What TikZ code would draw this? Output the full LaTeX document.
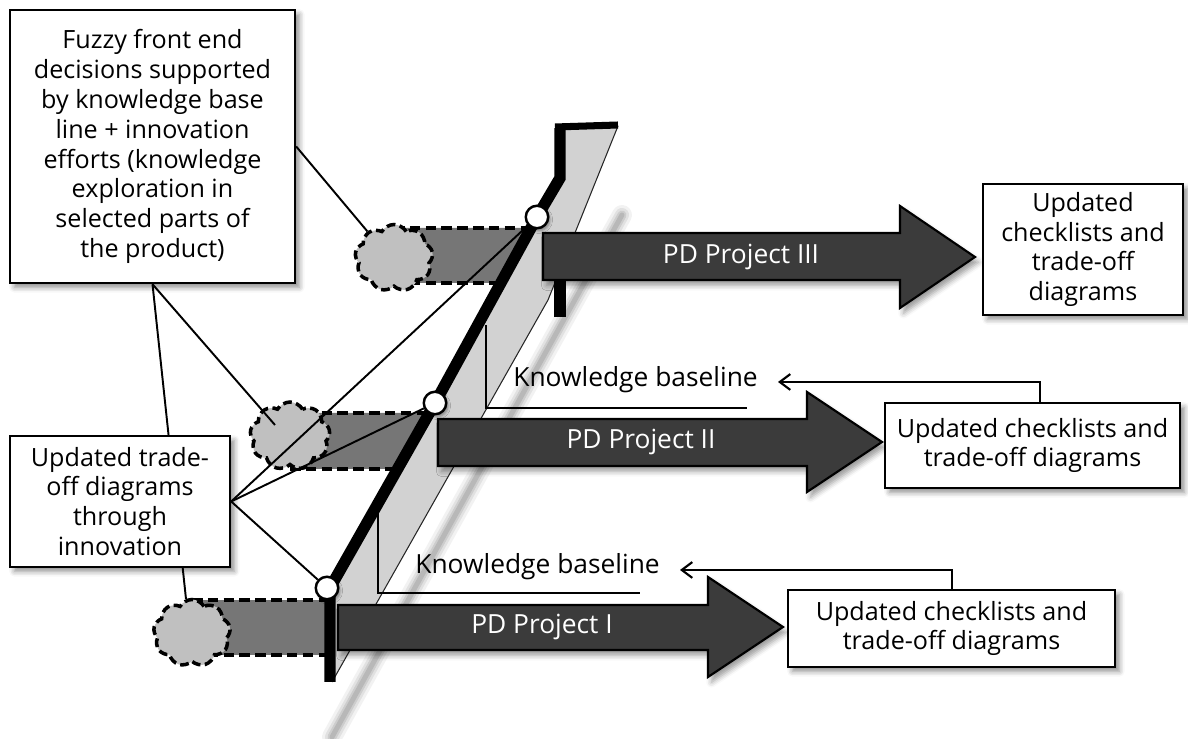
\documentclass[tikz,border=0pt]{standalone}
\usepackage{fontspec}
\setmainfont{Open Sans}
\usetikzlibrary{shapes.symbols,shadows.blur,arrows.meta,calc}
\definecolor{sheet}{HTML}{D2D2D2}
\definecolor{tube}{HTML}{767676}
\definecolor{cloudgray}{HTML}{C0C0C0}
\definecolor{arrowfill}{HTML}{3B3B3B}
\begin{document}
\begin{tikzpicture}[x=0.02cm,y=-0.02cm,
  txt/.style={font=\fontsize{14.3}{17}\selectfont, align=center},
  softshadow/.style={blur shadow={shadow xshift=2.5pt, shadow yshift=-2.5pt,
      shadow blur radius=3pt, shadow opacity=45}},
  infobox/.style={draw, line width=1.4pt, fill=white, inner sep=0pt, txt, softshadow},
  fuzzy/.style={cloud, cloud puffs=9, cloud puff arc=120, draw, fill=cloudgray,
      line width=2pt, dash pattern=on 5pt off 2.5pt, inner sep=0pt, aspect=1.15},
  dashedge/.style={line width=2pt, dash pattern=on 6pt off 3pt},
  tubefill/.style={fill=tube},
  projarrow/.style={draw, line width=1.2pt, fill=arrowfill, line join=miter,
      blur shadow={shadow xshift=2pt, shadow yshift=-3pt, shadow blur radius=3pt, shadow opacity=40}},
  projtext/.style={text=white, font=\fontsize{15}{18}\selectfont},
  kbtext/.style={font=\fontsize{15}{18}\selectfont, inner sep=0pt},
  baseline line/.style={line width=1.2pt},
  link/.style={line width=1.1pt},
  fb/.style={line width=1.2pt, -{Straight Barb[length=6pt,width=9pt,line width=1.2pt]}},
  gate/.style={circle, draw, line width=1.4pt, fill=white, minimum size=0.45cm, inner sep=0pt,
      blur shadow={shadow xshift=1pt, shadow yshift=-1.5pt, shadow blur radius=1.5pt, shadow opacity=40}}
]
\useasboundingbox (0,0) rectangle (1188,739);

% soft cast shadow of the sheet edge
\foreach \w/\o in {20/0.05,14/0.07,9/0.09,5/0.10}
  \draw[line width=\w*0.02cm, black, opacity=\o, line cap=round] (332,737) -- (622,215);

% the sheet carrying the knowledge baseline
\path[fill=sheet] (330,682) -- (330,588) -- (435,403) -- (537,217) -- (560,178)
  -- (560,128) -- (618,126) -- (548,300) -- (332,682) -- cycle;
\draw[line width=0.6pt, black!85] (618,126) -- (548,300) -- (332,682);

% rear edge below the third project
\draw[line width=7pt] (560,255) -- (560,317);

% tubes from the fuzzy front ends to the gates
\path[tubefill] (394,228) -- (531,228) -- (501,283) -- (394,283) -- cycle;
\path[tubefill] (290,413) -- (429,413) -- (396,469) -- (290,469) -- cycle;
\path[tubefill] (192,600) -- (327,600) -- (327,655) -- (192,655) -- cycle;
\draw[dashedge] (394,228) -- (531,228) (394,283) -- (501,283);
\draw[dashedge] (290,413) -- (429,413) (290,469) -- (396,469);
\draw[dashedge] (192,600) -- (327,600) (192,655) -- (327,655);

% fuzzy front ends
\node[fuzzy, minimum width=1.56cm, minimum height=1.34cm] (c3) at (394,258) {};
\node[fuzzy, minimum width=1.60cm, minimum height=1.36cm] (c2) at (290,436) {};
\node[fuzzy, minimum width=1.54cm, minimum height=1.34cm] (c1) at (192,633) {};

% knowledge baseline stem
\draw[line width=6.5pt, line join=miter] (330,682) -- (330,588) -- (435,403) -- (537,217)
  -- (560,178) -- (560,128);
\draw[line width=4pt] (555,127) -- (618,125);

% knowledge baselines
\draw[baseline line] (486,325) |- (747,408);
\node[kbtext, anchor=west] (kb2) at (513,380) {Knowledge baseline};
\draw[baseline line] (378,510) |- (640,593);
\node[kbtext, anchor=west] (kb1) at (415,567) {Knowledge baseline};

% project arrows
\path[projarrow] (543,233) -- (900,233) -- (900,206) -- (975,257) -- (900,308) -- (900,280) -- (543,280) -- cycle;
\node[projtext] (p3) at (741,257) {PD Project III};
\path[projarrow] (438,419) -- (807,419) -- (807,392) -- (882,442) -- (807,492) -- (807,466) -- (438,466) -- cycle;
\node[projtext] (p2) at (641,442) {PD Project II};
\path[projarrow] (338,605) -- (708,605) -- (708,577) -- (783,627) -- (708,677) -- (708,650) -- (338,650) -- cycle;
\node[projtext] (p1) at (542,627) {PD Project I};

% gates on the stem
\node[gate] (k3) at (537,217) {};
\node[gate] (k2) at (435,403) {};
\node[gate] (k1) at (327,588) {};

% explanation boxes on the left
\node[infobox, minimum width=5.7cm, minimum height=5.46cm] (ffe) at (152.5,146.5)
  {Fuzzy front end\\decisions supported\\by knowledge base\\line + innovation\\efforts (knowledge\\exploration in\\selected parts of\\the product)};
\draw[link] (ffe.south) -- (c1.100);
\draw[link] (ffe.south) -- ($(c2.center)+(-15,-11)$);
\draw[link] (ffe.east) -- (c3.135);

\node[infobox, minimum width=4.4cm, minimum height=2.62cm] (upd) at (120,501.5)
  {Updated trade-\\off diagrams\\through\\innovation};
\draw[link] (upd.east) -- (k3);
\draw[link] (upd.east) -- (k2);
\draw[link] (upd.east) -- (k1);

% result boxes on the right
\node[infobox, minimum width=4.0cm, minimum height=2.62cm] (b3) at (1083,249.5)
  {Updated\\checklists and\\trade-off\\diagrams};
\node[infobox, minimum width=5.9cm, minimum height=1.7cm] (b2) at (1032.5,445.5)
  {Updated checklists and\\trade-off diagrams};
\node[infobox, minimum width=6.54cm, minimum height=1.54cm] (b1) at (951.5,628.5)
  {Updated checklists and\\trade-off diagrams};

% feedback into the next knowledge baseline
\coordinate (fb2) at (1040,403);
\coordinate (kb2tip) at (778,382);
\draw[fb] (fb2) |- (kb2tip);
\coordinate (fb1) at (952,590);
\coordinate (kb1tip) at (680,570);
\draw[fb] (fb1) |- (kb1tip);
\end{tikzpicture}
\end{document}
